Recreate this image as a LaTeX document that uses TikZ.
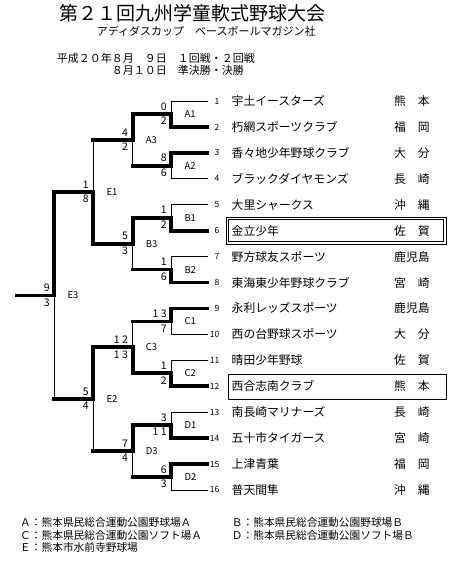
\documentclass[tikz,border=0pt]{standalone}
\usepackage{fontspec}
\setmainfont{Noto Sans CJK JP}

\begin{document}
\begin{tikzpicture}[
    x=1pt, y=-1pt,
    line cap=rect,
    line join=miter,
    win/.style={line width=3.8pt},
    lose/.style={line width=0.8pt},
    score/.style={font=\fontsize{10.5}{11}\selectfont, inner sep=0pt},
    scoreup/.style={score, anchor=south east, xshift=-4.5pt, yshift=3.5pt},
    scoredn/.style={score, anchor=north east, xshift=-4.5pt, yshift=-3pt},
    game/.style={font=\fontsize{9.5}{10}\selectfont, inner sep=0pt, anchor=west, xshift=13pt},
    num/.style={font=\fontsize{8.5}{9}\selectfont, inner sep=0pt, anchor=east},
    team/.style={font=\fontsize{11.8}{12}\selectfont, inner sep=0pt, anchor=west},
    head/.style={font=\fontsize{11}{12}\selectfont, inner sep=0pt, anchor=west},
    note/.style={font=\fontsize{10.7}{11}\selectfont, inner sep=0pt, anchor=west}
  ]

\useasboundingbox (0,0) rectangle (461,572);

% common row geometry: 16 teams, same spacing
\def\ytop{101}
\def\dy{25.93}
\def\row#1{\ytop+(#1-1)*\dy}

% bracket columns (left to right)
\def\xa{17}     % final
\def\xb{54.3}   % E3
\def\xc{93.3}   % E1, E2
\def\xd{132.7}  % A3 .. D3
\def\xe{171.3}  % A1 .. D2
\def\xf{207.5}  % team line end
\def\xn{219.5}  % team number (right edge)
\def\xt{231.5}  % team name
\def\xp{394}    % prefecture

% ============================================================
% HEADER
% ============================================================
\node[anchor=west, inner sep=0pt, font=\fontsize{19}{20}\selectfont]
  (title) at (59,13.5) {第２１回九州学童軟式野球大会};
\node[head] (sponsor) at (96.7,31.7) {アディダスカップ　ベースボールマガジン社};
\node[head] (date1) at (56.7,58.3) {平成２０年８月　９日　１回戦・２回戦};
\node[head] (date2) at (111.7,70.7) {８月１０日　準決勝・決勝};

% ============================================================
% TEAMS
% ============================================================
\coordinate (e1) at (\xf,{\row{1}});
\node[num]  (n1) at (\xn,{\row{1}}) {1};
\node[team] (t1) at (\xt,{\row{1}}) {宇土イースターズ};
\node[team] (p1) at (\xp,{\row{1}}) {熊　本};

\coordinate (e2) at (\xf,{\row{2}});
\node[num]  (n2) at (\xn,{\row{2}}) {2};
\node[team] (t2) at (\xt,{\row{2}}) {朽網スポーツクラブ};
\node[team] (p2) at (\xp,{\row{2}}) {福　岡};

\coordinate (e3) at (\xf,{\row{3}});
\node[num]  (n3) at (\xn,{\row{3}}) {3};
\node[team] (t3) at (\xt,{\row{3}}) {香々地少年野球クラブ};
\node[team] (p3) at (\xp,{\row{3}}) {大　分};

\coordinate (e4) at (\xf,{\row{4}});
\node[num]  (n4) at (\xn,{\row{4}}) {4};
\node[team] (t4) at (\xt,{\row{4}}) {ブラックダイヤモンズ};
\node[team] (p4) at (\xp,{\row{4}}) {長　崎};

\coordinate (e5) at (\xf,{\row{5}});
\node[num]  (n5) at (\xn,{\row{5}}) {5};
\node[team] (t5) at (\xt,{\row{5}}) {大里シャークス};
\node[team] (p5) at (\xp,{\row{5}}) {沖　縄};

\coordinate (e6) at (\xf,{\row{6}});
\node[num]  (n6) at (\xn,{\row{6}}) {6};
\node[team] (t6) at (\xt,{\row{6}}) {金立少年};
\node[team] (p6) at (\xp,{\row{6}}) {佐　賀};

\coordinate (e7) at (\xf,{\row{7}});
\node[num]  (n7) at (\xn,{\row{7}}) {7};
\node[team] (t7) at (\xt,{\row{7}}) {野方球友スポーツ};
\node[team] (p7) at (\xp,{\row{7}}) {鹿児島};

\coordinate (e8) at (\xf,{\row{8}});
\node[num]  (n8) at (\xn,{\row{8}}) {8};
\node[team] (t8) at (\xt,{\row{8}}) {東海東少年野球クラブ};
\node[team] (p8) at (\xp,{\row{8}}) {宮　崎};

\coordinate (e9) at (\xf,{\row{9}});
\node[num]  (n9) at (\xn,{\row{9}}) {9};
\node[team] (t9) at (\xt,{\row{9}}) {永利レッズスポーツ};
\node[team] (p9) at (\xp,{\row{9}}) {鹿児島};

\coordinate (e10) at (\xf,{\row{10}});
\node[num]  (n10) at (\xn,{\row{10}}) {10};
\node[team] (t10) at (\xt,{\row{10}}) {西の台野球スポーツ};
\node[team] (p10) at (\xp,{\row{10}}) {大　分};

\coordinate (e11) at (\xf,{\row{11}});
\node[num]  (n11) at (\xn,{\row{11}}) {11};
\node[team] (t11) at (\xt,{\row{11}}) {晴田少年野球};
\node[team] (p11) at (\xp,{\row{11}}) {佐　賀};

\coordinate (e12) at (\xf,{\row{12}});
\node[num]  (n12) at (\xn,{\row{12}}) {12};
\node[team] (t12) at (\xt,{\row{12}}) {西合志南クラブ};
\node[team] (p12) at (\xp,{\row{12}}) {熊　本};

\coordinate (e13) at (\xf,{\row{13}});
\node[num]  (n13) at (\xn,{\row{13}}) {13};
\node[team] (t13) at (\xt,{\row{13}}) {南長崎マリナーズ};
\node[team] (p13) at (\xp,{\row{13}}) {長　崎};

\coordinate (e14) at (\xf,{\row{14}});
\node[num]  (n14) at (\xn,{\row{14}}) {14};
\node[team] (t14) at (\xt,{\row{14}}) {五十市タイガース};
\node[team] (p14) at (\xp,{\row{14}}) {宮　崎};

\coordinate (e15) at (\xf,{\row{15}});
\node[num]  (n15) at (\xn,{\row{15}}) {15};
\node[team] (t15) at (\xt,{\row{15}}) {上津青葉};
\node[team] (p15) at (\xp,{\row{15}}) {福　岡};

\coordinate (e16) at (\xf,{\row{16}});
\node[num]  (n16) at (\xn,{\row{16}}) {16};
\node[team] (t16) at (\xt,{\row{16}}) {普天間隼};
\node[team] (p16) at (\xp,{\row{16}}) {沖　縄};

% boxes round the two highlighted teams
\draw[lose] (226,217) rectangle (446,244);
\draw[lose] (228.5,219.5) rectangle (443.5,241.5);
\draw[lose] (228.5,374) rectangle (446,399);

% ============================================================
% GAME POINTS
% ============================================================
\coordinate (A1) at (\xe,{\row{1.5}});
\coordinate (A2) at (\xe,{\row{3.5}});
\coordinate (B1) at (\xe,{\row{5.5}});
\coordinate (B2) at (\xe,{\row{7.5}});
\coordinate (C1) at (\xe,{\row{9.5}});
\coordinate (C2) at (\xe,{\row{11.5}});
\coordinate (D1) at (\xe,{\row{13.5}});
\coordinate (D2) at (\xe,{\row{15.5}});

\coordinate (A3) at (\xd,{\row{2.5}});
\coordinate (B3) at (\xd,{\row{6.5}});
\coordinate (C3) at (\xd,{\row{10.5}});
\coordinate (D3) at (\xd,{\row{14.5}});

\coordinate (E1) at (\xc,{\row{4.5}});
\coordinate (E2) at (\xc,{\row{12.5}});

\coordinate (E3) at (\xb,{\row{8.5}});
\coordinate (F)  at (\xa,{\row{8.5}});

% ============================================================
% FIRST ROUND
% ============================================================
\draw[lose] (A1) |- (e1);
\draw[win]  (A1) |- (e2);
\draw[win]  (A2) |- (e3);
\draw[lose] (A2) |- (e4);
\draw[lose] (B1) |- (e5);
\draw[win]  (B1) |- (e6);
\draw[lose] (B2) |- (e7);
\draw[win]  (B2) |- (e8);
\draw[win]  (C1) |- (e9);
\draw[lose] (C1) |- (e10);
\draw[lose] (C2) |- (e11);
\draw[win]  (C2) |- (e12);
\draw[lose] (D1) |- (e13);
\draw[win]  (D1) |- (e14);
\draw[win]  (D2) |- (e15);
\draw[lose] (D2) |- (e16);

% ============================================================
% SECOND ROUND
% ============================================================
% A3: upper wins
\draw[win]  (A1) -- (A1 -| A3) -- (A3);
\draw[win]  (A2) -- (A2 -| A3);
\draw[lose] (A2 -| A3) -- (A3);

% B3: upper wins
\draw[win]  (B1) -- (B1 -| B3) -- (B3);
\draw[win]  (B2) -- (B2 -| B3);
\draw[lose] (B2 -| B3) -- (B3);

% C3: lower wins
\draw[win]  (C1) -- (C1 -| C3);
\draw[lose] (C1 -| C3) -- (C3);
\draw[win]  (C2) -- (C2 -| C3) -- (C3);

% D3: upper wins
\draw[win]  (D1) -- (D1 -| D3) -- (D3);
\draw[win]  (D2) -- (D2 -| D3);
\draw[lose] (D2 -| D3) -- (D3);

% ============================================================
% SEMI-FINALS AND FINAL
% ============================================================
% E1: lower wins
\draw[win]  (A3) -- (A3 -| E1);
\draw[lose] (A3 -| E1) -- (E1);
\draw[win]  (B3) -- (B3 -| E1) -- (E1);

% E2: upper wins
\draw[win]  (C3) -- (C3 -| E2) -- (E2);
\draw[win]  (D3) -- (D3 -| E2);
\draw[lose] (D3 -| E2) -- (E2);

% E3: upper wins
\draw[win]  (E1) -- (E1 -| E3) -- (E3);
\draw[win]  (E2) -- (E2 -| E3);
\draw[lose] (E2 -| E3) -- (E3);

\draw[win] (E3) -- (F);

% ============================================================
% SCORES AND GAME LABELS
% ============================================================
\node[scoreup] (sA1a) at (A1) {0};   \node[scoredn] (sA1b) at (A1) {2};
\node[scoreup] (sA2a) at (A2) {8};   \node[scoredn] (sA2b) at (A2) {6};
\node[scoreup] (sB1a) at (B1) {1};   \node[scoredn] (sB1b) at (B1) {2};
\node[scoreup] (sB2a) at (B2) {1};   \node[scoredn] (sB2b) at (B2) {6};
\node[scoreup] (sC1a) at (C1) {1 3}; \node[scoredn] (sC1b) at (C1) {7};
\node[scoreup] (sC2a) at (C2) {1};   \node[scoredn] (sC2b) at (C2) {2};
\node[scoreup] (sD1a) at (D1) {3};   \node[scoredn] (sD1b) at (D1) {1 1};
\node[scoreup] (sD2a) at (D2) {6};   \node[scoredn] (sD2b) at (D2) {3};

\node[scoreup] (sA3a) at (A3) {4};   \node[scoredn] (sA3b) at (A3) {2};
\node[scoreup] (sB3a) at (B3) {5};   \node[scoredn] (sB3b) at (B3) {3};
\node[scoreup] (sC3a) at (C3) {1 2}; \node[scoredn] (sC3b) at (C3) {1 3};
\node[scoreup] (sD3a) at (D3) {7};   \node[scoredn] (sD3b) at (D3) {4};

\node[scoreup] (sE1a) at (E1) {1};   \node[scoredn] (sE1b) at (E1) {8};
\node[scoreup] (sE2a) at (E2) {5};   \node[scoredn] (sE2b) at (E2) {4};
\node[scoreup] (sE3a) at (E3) {9};   \node[scoredn] (sE3b) at (E3) {3};

\node[game] (gA1) at (A1) {A1};
\node[game] (gA2) at (A2) {A2};
\node[game] (gB1) at (B1) {B1};
\node[game] (gB2) at (B2) {B2};
\node[game] (gC1) at (C1) {C1};
\node[game] (gC2) at (C2) {C2};
\node[game] (gD1) at (D1) {D1};
\node[game] (gD2) at (D2) {D2};
\node[game] (gA3) at (A3) {A3};
\node[game] (gB3) at (B3) {B3};
\node[game] (gC3) at (C3) {C3};
\node[game] (gD3) at (D3) {D3};
\node[game] (gE1) at (E1) {E1};
\node[game] (gE2) at (E2) {E2};
\node[game] (gE3) at (E3) {E3};

% ============================================================
% GROUNDS
% ============================================================
\node[note] (siteA) at (20,522.5)    {Ａ：熊本県民総合運動公園野球場Ａ};
\node[note] (siteB) at (231.7,522.5) {Ｂ：熊本県民総合運動公園野球場Ｂ};
\node[note] (siteC) at (20,535)      {Ｃ：熊本県民総合運動公園ソフト場Ａ};
\node[note] (siteD) at (231.7,535)   {Ｄ：熊本県民総合運動公園ソフト場Ｂ};
\node[note] (siteE) at (20,547.5)    {Ｅ：熊本市水前寺野球場};

\end{tikzpicture}
\end{document}
